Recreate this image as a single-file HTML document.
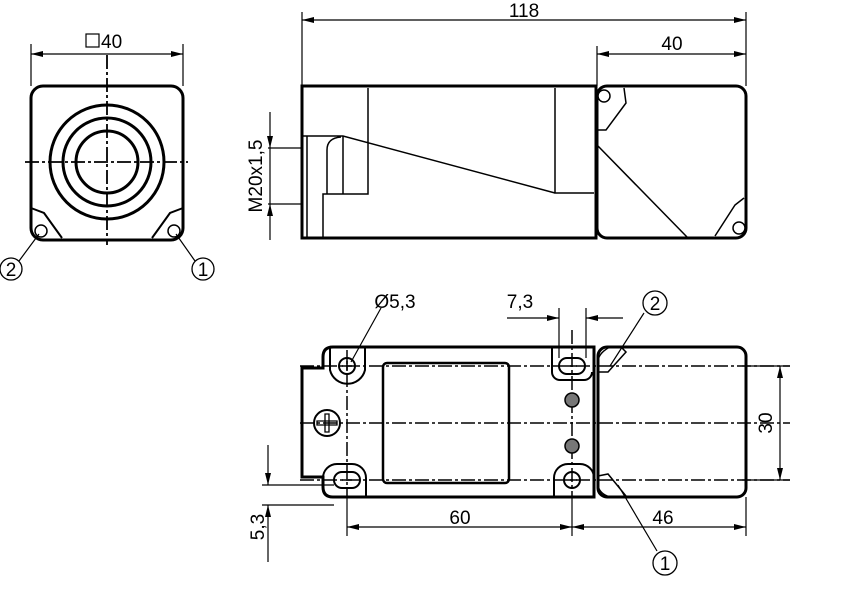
<!DOCTYPE html>
<html><head><meta charset="utf-8"><style>
html,body{margin:0;padding:0;background:#fff;}
svg{display:block;}
text{font-family:"Liberation Sans",sans-serif;fill:#000;}
</style></head><body>
<svg width="841" height="592" viewBox="0 0 841 592" xmlns="http://www.w3.org/2000/svg">
<defs>
<marker id="a" viewBox="0 0 12 6" refX="12" refY="3" markerWidth="12" markerHeight="6" orient="auto-start-reverse" markerUnits="userSpaceOnUse">
<path d="M0,0 L12,3 L0,6 z" fill="#000"/></marker>
</defs>
<g fill="none" stroke="#000">
<!-- LEFT VIEW -->
<rect x="31" y="86" width="152" height="154" rx="12" stroke-width="3"/>
<circle cx="107" cy="162" r="57" stroke-width="3"/>
<circle cx="107" cy="162" r="44" stroke-width="3"/>
<circle cx="107" cy="162" r="31" stroke-width="3"/>
<path d="M25,162 H188 M107,55 V245" stroke-width="1.8" stroke-dasharray="14,3,3,3"/>
<path d="M31,208 L44,213 L62,238 M183,208 L170,213 L152,238" stroke-width="2"/>
<circle cx="41" cy="231" r="6" stroke-width="1.5"/>
<circle cx="174" cy="231" r="6" stroke-width="1.5"/>
<path d="M31,44 V86 M183,44 V86" stroke-width="1.2"/>
<line x1="31" y1="54" x2="183" y2="54" stroke-width="1.2" marker-start="url(#a)" marker-end="url(#a)"/>
<rect x="86" y="34" width="13" height="13" stroke-width="1.2"/>
<path d="M39,234 L19,261 M176,234 L195,261" stroke-width="1.2"/>
<circle cx="11" cy="269" r="11" stroke-width="1.3"/>
<circle cx="203" cy="269" r="11" stroke-width="1.3"/>

<!-- SIDE VIEW -->
<rect x="302" y="86" width="294" height="152" stroke-width="3"/>
<rect x="597" y="86" width="149" height="152" rx="10" stroke-width="3"/>
<path d="M368,88 V194 H323 V238 M555,88 V193 H594 M303,136 H343 L555,193 M343,136 V194 M307,136 V238 M327,194 V150 Q327,138 341,137" stroke-width="1.5"/>
<path d="M597,145 L687,237" stroke-width="1.5"/>
<path d="M597,130 L606,130 L626,103 L624,88" stroke-width="1.5"/>
<circle cx="604" cy="96" r="6" stroke-width="1.5"/>
<path d="M744,198 L735,205 L715,236" stroke-width="1.5"/>
<circle cx="739" cy="228" r="6" stroke-width="1.5"/>
<path d="M302,12 V86 M746,12 V86 M597,46 V86" stroke-width="1.2"/>
<line x1="302" y1="20" x2="746" y2="20" stroke-width="1.2" marker-start="url(#a)" marker-end="url(#a)"/>
<line x1="597" y1="54" x2="746" y2="54" stroke-width="1.2" marker-start="url(#a)" marker-end="url(#a)"/>
<path d="M268,148 H302 M268,204 H302 M270,148 V204" stroke-width="1.2"/>
<line x1="270" y1="112" x2="270" y2="148" stroke-width="1.2" marker-end="url(#a)"/>
<line x1="270" y1="240" x2="270" y2="204" stroke-width="1.2" marker-end="url(#a)"/>

<!-- BOTTOM VIEW -->
<path d="M333,347 H594 V497 H333 Q323,497 323,487 V477 H302 V368 H323 V357 Q323,347 333,347 Z" stroke-width="3"/>
<rect x="598" y="347" width="148" height="150" rx="9" stroke-width="3"/>
<path d="M300,366 H790 M300,423 H790 M300,480 H790" stroke-width="1.5" stroke-dasharray="14,3,3,3"/>
<path d="M347,350 V498 M572,330 V498" stroke-width="1.5" stroke-dasharray="14,3,3,3"/>
<rect x="383" y="363" width="126" height="120" rx="4" stroke-width="2.5"/>
<path d="M330,347 V370 A18,18 0 0 0 365,370 V347" stroke-width="2"/>
<path d="M552,347 V372 A8,8 0 0 0 560,380 H584 A8,8 0 0 0 592,372" stroke-width="2"/>
<path d="M323,490 V478 A14,14 0 0 1 337,464 H352 A14,14 0 0 1 366,478 V497" stroke-width="2"/>
<path d="M554,497 V478 A14,14 0 0 1 568,464 H580 A14,14 0 0 1 594,478" stroke-width="2"/>
<circle cx="347" cy="366" r="8" stroke-width="2"/>
<rect x="559" y="358" width="26" height="16" rx="8" stroke-width="2"/>
<rect x="334" y="472" width="26" height="16" rx="8" stroke-width="2"/>
<circle cx="572" cy="480" r="8" stroke-width="2"/>
<path d="M342,366 H352 M347,361 V371 M567,366 H577 M342,480 H352 M567,480 H577" stroke-width="1.5"/>
<circle cx="327" cy="423" r="13" stroke-width="2"/>
<path d="M317,421 H337 V425 H317 Z M325,414 H329 V432 H325 Z" stroke-width="1.3"/>
<circle cx="572" cy="400" r="7" fill="#777" stroke-width="1.5"/>
<circle cx="572" cy="446" r="7" fill="#777" stroke-width="1.5"/>
<path d="M598,372 L608,372 L626,352 L621,347 H610 Q600,352 598,360" stroke-width="1.5"/>
<path d="M598,476 L608,474 L626,496 L621,497 H610 Q600,494 598,486" stroke-width="1.5"/>
<path d="M347,498 V536 M572,498 V536 M746,497 V536 M742,366 H790 M742,480 H790" stroke-width="1.2"/>
<line x1="347" y1="527" x2="572" y2="527" stroke-width="1.2" marker-start="url(#a)" marker-end="url(#a)"/>
<line x1="572" y1="527" x2="746" y2="527" stroke-width="1.2" marker-start="url(#a)" marker-end="url(#a)"/>
<line x1="780" y1="366" x2="780" y2="480" stroke-width="1.2" marker-start="url(#a)" marker-end="url(#a)"/>
<path d="M559,308 V358 M586,308 V358" stroke-width="1.2"/>
<line x1="507" y1="318" x2="559" y2="318" stroke-width="1.2" marker-end="url(#a)"/>
<line x1="623" y1="318" x2="586" y2="318" stroke-width="1.2" marker-end="url(#a)"/>
<path d="M262,485 H334 M262,505 H334" stroke-width="1.2"/>
<line x1="268" y1="445" x2="268" y2="485" stroke-width="1.2" marker-end="url(#a)"/>
<line x1="268" y1="562" x2="268" y2="505" stroke-width="1.2" marker-end="url(#a)"/>
<path d="M381,308 L351,362 M644,313 L610,366 M618,485 L657,551" stroke-width="1.2"/>
<circle cx="655" cy="303" r="12" stroke-width="1.3"/>
<circle cx="665" cy="563" r="12" stroke-width="1.3"/>
</g>
<g font-size="19">
<text x="101" y="48">40</text>
<text x="524" y="17" text-anchor="middle">118</text>
<text x="672" y="50" text-anchor="middle">40</text>
<text transform="translate(262,176) rotate(-90)" text-anchor="middle">M20x1,5</text>
<text x="11" y="276" text-anchor="middle">2</text>
<text x="203" y="276" text-anchor="middle">1</text>
<text x="395" y="308" text-anchor="middle">Ø5,3</text>
<text x="520" y="308" text-anchor="middle">7,3</text>
<text x="655" y="310" text-anchor="middle">2</text>
<text x="665" y="570" text-anchor="middle">1</text>
<text x="460" y="524" text-anchor="middle">60</text>
<text x="663" y="524" text-anchor="middle">46</text>
<text transform="translate(772,423) rotate(-90)" text-anchor="middle">30</text>
<text transform="translate(264,527) rotate(-90)" text-anchor="middle">5,3</text>
</g>
</svg>
</body></html>
